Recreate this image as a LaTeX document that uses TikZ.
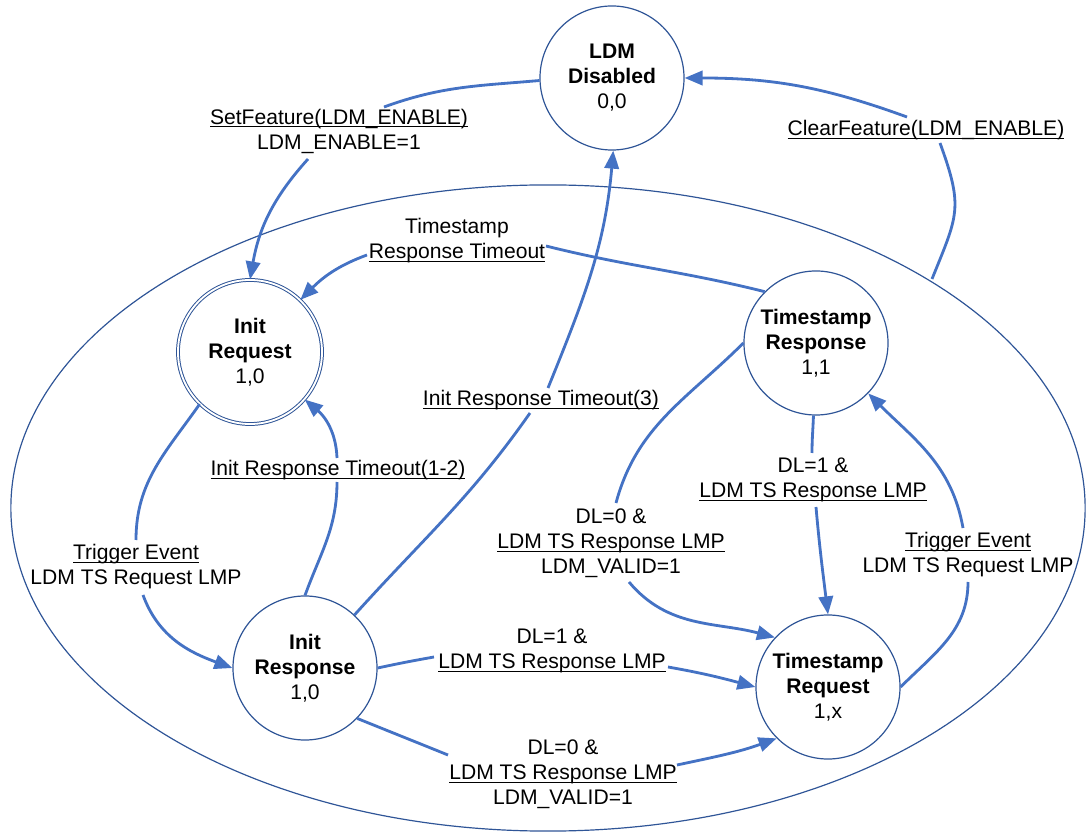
\documentclass[tikz,border=0pt]{standalone}
\usepackage{fontspec}
\setmainfont{Liberation Sans}
\usetikzlibrary{arrows.meta,calc,shapes.geometric}
\definecolor{nodeblue}{RGB}{47,85,151}
\definecolor{arrowblue}{RGB}{68,114,196}
\newcommand{\myul}[1]{\leavevmode\setbox0\hbox{#1}\rlap{\rule[-2.3pt]{\wd0}{0.7pt}}\box0}
\begin{document}
\begin{tikzpicture}[x=0.025cm,y=0.025cm,
  font=\fontsize{15}{17.8}\selectfont,
  state/.style={circle,draw=nodeblue,line width=0.85pt,minimum size=3.6cm,inner sep=0pt,align=center,fill=white},
  initstate/.style={state,double=white,double distance=1.3pt,line width=0.7pt},
  lbl/.style={align=center,inner sep=0pt},
  edge/.style={draw=arrowblue,line width=2pt},
  arr/.style={edge,-{Triangle[length=0.45cm,width=0.36cm]}}]
\useasboundingbox (0,0) rectangle (1086,-832);

% enabled super-state
\draw[nodeblue,line width=0.85pt] (548,-508) ellipse [x radius=13.425cm,y radius=8.075cm];
\coordinate (enab) at (932,-279);

% states
\node[state] (dis) at (612,-78) {\textbf{LDM}\\\textbf{Disabled}\\0,0};
\node[initstate] (ireq) at (250,-352) {\textbf{Init}\\\textbf{Request}\\1,0};
\node[state] (ires) at (305,-668) {\textbf{Init}\\\textbf{Response}\\1,0};
\node[state] (tsr) at (816,-343) {\textbf{Timestamp}\\\textbf{Response}\\1,1};
\node[state] (tsq) at (828,-687) {\textbf{Timestamp}\\\textbf{Request}\\1,x};

% labels
\node[lbl] (l1) at (339,-131) {\myul{SetFeature(LDM\_ENABLE)}\\LDM\_ENABLE=1};
\node[lbl] (l2) at (926,-130) {\myul{ClearFeature(LDM\_ENABLE)}};
\node[lbl] (l3) at (457,-241) {Timestamp\\\myul{Response Timeout}};
\node[lbl] (l4) at (541,-400) {\myul{Init Response Timeout(3)}};
\node[lbl] (l5) at (338,-470) {\myul{Init Response Timeout(1-2)}};
\node[lbl] (l6) at (136,-567) {\myul{Trigger Event}\\LDM TS Request LMP};
\node[lbl] (l7) at (813,-480) {DL=1 \&\\\myul{LDM TS Response LMP}};
\node[lbl] (l8) at (611,-543) {DL=0 \&\\\myul{LDM TS Response LMP}\\LDM\_VALID=1};
\node[lbl] (l9) at (968,-555) {\myul{Trigger Event}\\LDM TS Request LMP};
\node[lbl] (l10) at (552,-651) {DL=1 \&\\\myul{LDM TS Response LMP}};
\node[lbl] (l11) at (563,-774) {DL=0 \&\\\myul{LDM TS Response LMP}\\LDM\_VALID=1};

% connectors
\draw[edge] (dis.182) to[out=185,in=20] ($(l1)+(45,24)$);
\draw[arr] ($(l1)+(-31,-28)$) to[out=228,in=80] (ireq.90);

\draw[edge] (enab) to[out=68,in=-70,looseness=1.3] ($(l2)+(14,-13)$);
\draw[arr] ($(l2)+(-19,13)$) to[out=160,in=0] (dis.0);

\draw[edge] (tsr.135) to[out=166,in=-14] ($(l3)+(89,-5)$);
\draw[arr] ($(l3)+(-90,-14)$) to[out=200,in=45] (ireq.46);

\draw[edge] (ires.47) to[out=48,in=-125] ($(l4)+(-11,-13)$);
\draw[arr] ($(l4)+(7,12)$) to[out=68,in=-95] (dis.-89);

\draw[edge] (ires.90) to[out=70,in=-90] ($(l5)+(-1,-12)$);
\draw[arr] ($(l5)+(-1,12)$) to[out=92,in=-40] (ireq.-41);

\draw[edge] (ireq.226) to[out=235,in=90] ($(l6)+(0,27)$);
\draw[arr] ($(l6)+(7,-28)$) to[out=-70,in=160] (ires.180);

\draw[edge] (tsr.-92) to[out=-92,in=90] ($(l7)+(-1,27)$);
\draw[arr] ($(l7)+(3,-27)$) to[out=-85,in=97] (tsq.90);

\draw[edge] (tsr.180) to[out=225,in=75] ($(l8)+(5,40)$);
\draw[arr] ($(l8)+(18,-39)$) to[out=-50,in=165] (tsq.137);

\draw[edge] (tsq.0) to[out=45,in=-90] ($(l9)+(0,-27)$);
\draw[arr] ($(l9)+(-5,27)$) to[out=100,in=-45] (tsr.-44);

\draw[edge] (ires.0) to[out=12,in=190] ($(l10)+(-118,-6)$);
\draw[arr] ($(l10)+(116,-16)$) to[out=-10,in=165] (tsq.180);

\draw[edge] (ires.-44) to[out=-22,in=158] ($(l11)+(-115,19)$);
\draw[arr] ($(l11)+(114,9)$) to[out=12,in=200] (tsq.-135);
\end{tikzpicture}
\end{document}
